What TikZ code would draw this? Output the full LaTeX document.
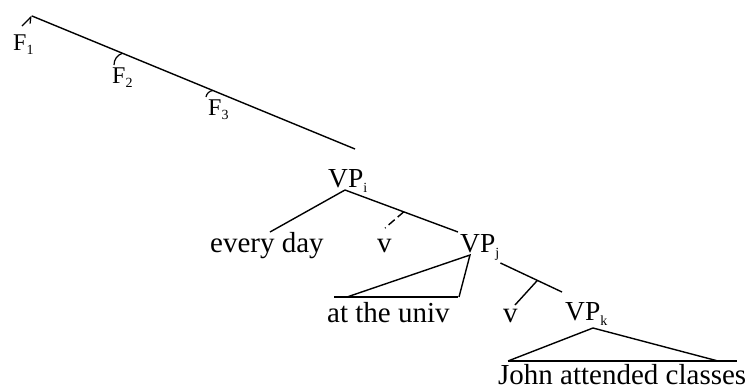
\documentclass[tikz,border=0pt]{standalone}
\usepackage{fontspec}
\setmainfont{Liberation Serif}
\usetikzlibrary{arrows.meta,calc}
\newcommand{\lowsub}[1]{\raisebox{-0.45ex}{\fontsize{14}{14}\selectfont #1}}

\begin{document}
\begin{tikzpicture}[
    x=1pt, y=-1pt,
    word/.style={anchor=base west, inner sep=0pt, font=\fontsize{29}{32}\selectfont},
    cat/.style={anchor=base west, inner sep=0pt, font=\fontsize{27.5}{30}\selectfont},
    flab/.style={anchor=base west, inner sep=0pt, font=\fontsize{24}{26}\selectfont},
    br/.style={line width=1.4pt, draw=black},
    hook/.style={line width=1.2pt, draw=black, bend left=35}
  ]
  \useasboundingbox (0,0) rectangle (755,389);

  % labels
  \node[flab] (F1) at (13,50) {F\lowsub{1}};
  \node[flab] (F2) at (112,83) {F\lowsub{2}};
  \node[flab] (F3) at (208,115) {F\lowsub{3}};
  \node[cat]  (VPi) at (328,187) {VP\lowsub{i}};
  \node[word] (day) at (210,252) {every day};
  \node[word] (v1) at (377,252) {v};
  \node[cat]  (VPj) at (460,252) {VP\lowsub{j}};
  \node[word] (univ) at (327,322) {at the univ};
  \node[word] (v2) at (503,322) {v};
  \node[cat]  (VPk) at (565,320) {VP\lowsub{k}};
  \node[word] (john) at (498,384) {John attended classes};

  % spine of the F projections
  \coordinate (ftop) at (32,16);
  \coordinate (fend) at (355,149);
  \draw[br] (ftop) -- (fend);
  \draw[line width=1.2pt, -{Straight Barb[right, length=5pt, width=8pt]}] ([xshift=9pt,yshift=24pt]F1.base west) -- (ftop);
  \draw[hook] ([xshift=2pt,yshift=18pt]F2.base west) to ($(ftop)!0.28!(fend)$);
  \draw[hook] ([xshift=-2pt,yshift=18pt]F3.base west) to ($(ftop)!0.56!(fend)$);

  % VP_i
  \coordinate (iroot) at ([xshift=17pt,yshift=-3pt]VPi.base west);
  \coordinate (jleaf) at ([xshift=-2pt,yshift=20pt]VPj.base west);
  \draw[br] (iroot) -- ([xshift=60pt,yshift=20pt]day.base west);
  \draw[br] (iroot) -- (jleaf);
  \draw[br, dash pattern=on 8pt off 4pt] ($(iroot)!0.52!(jleaf)$) -- ([xshift=8pt,yshift=24pt]v1.base west);

  % VP_j
  \coordinate (jroot) at ([xshift=10pt,yshift=-3pt]VPj.base west);
  \draw[br] ([xshift=20pt,yshift=25pt]univ.base west) -- (jroot) -- ([xshift=132pt,yshift=25pt]univ.base west);
  \draw[br] ([xshift=7pt,yshift=25pt]univ.base west) -- ([xshift=131pt,yshift=25pt]univ.base west);
  \coordinate (jright) at ([xshift=1pt,yshift=-11pt]VPj.base east);
  \coordinate (kleaf) at ([xshift=-3pt,yshift=28pt]VPk.base west);
  \draw[br] (jright) -- (kleaf);
  \draw[br] ($(jright)!0.6!(kleaf)$) -- ([xshift=12pt,yshift=17pt]v2.base west);

  % VP_k
  \coordinate (kroot) at ([xshift=28pt,yshift=-8pt]VPk.base west);
  \draw[br] ([xshift=10pt,yshift=23pt]john.base west) -- (kroot) -- ([xshift=220pt,yshift=23pt]john.base west);
  \draw[br] ([xshift=10pt,yshift=23pt]john.base west) -- ([xshift=239pt,yshift=23pt]john.base west);
\end{tikzpicture}
\end{document}
